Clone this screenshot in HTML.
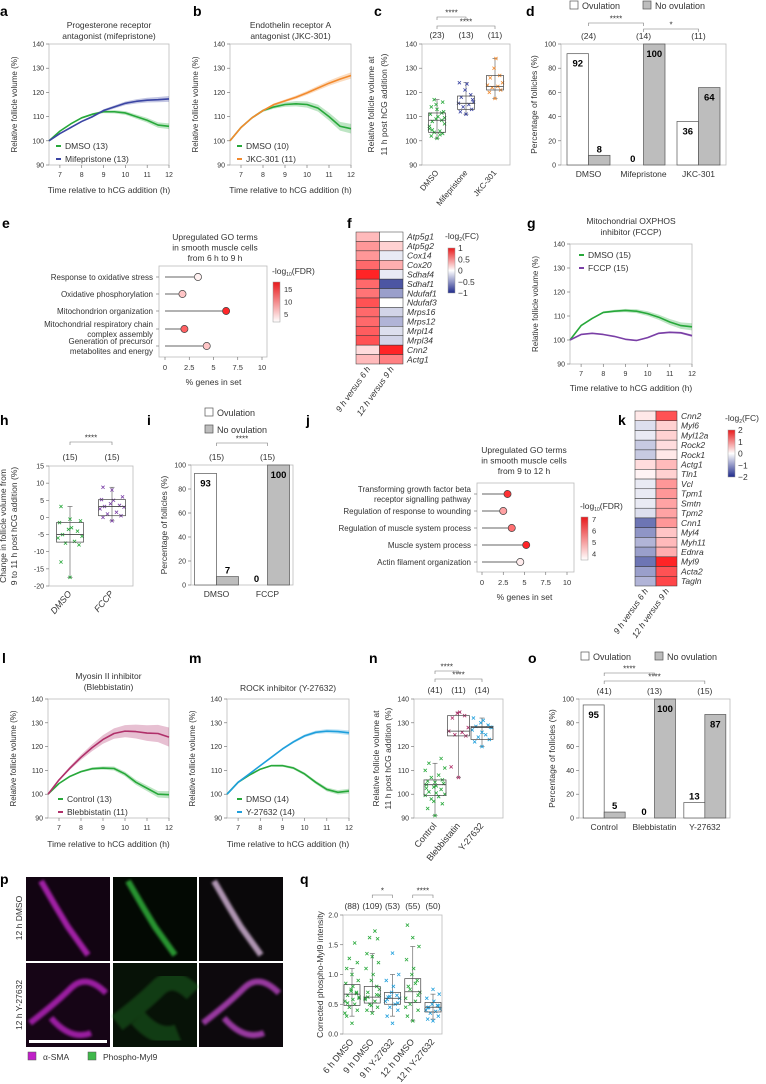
<!DOCTYPE html>
<html><head><meta charset="utf-8"><style>
html,body{margin:0;padding:0;background:#fff}
svg{display:block;font-family:"Liberation Sans",sans-serif}
</style></head><body>
<svg id="fig" width="766" height="1084" viewBox="0 0 766 1084" xmlns="http://www.w3.org/2000/svg">
<defs>
<linearGradient id="gFdr" x1="0" y1="1" x2="0" y2="0"><stop offset="0" stop-color="#fff"/><stop offset="1" stop-color="#e8191b"/></linearGradient>
<linearGradient id="gFc" x1="0" y1="1" x2="0" y2="0"><stop offset="0" stop-color="#1f2a8c"/><stop offset="0.5" stop-color="#fff"/><stop offset="1" stop-color="#e8191b"/></linearGradient>
<filter id="bl"><feGaussianBlur stdDeviation="1.4"/></filter>
</defs>
</svg>
<script>
// ---------- data ----------
const times = [6.5,7,7.5,8,8.5,9,9.5,10,10.5,11,11.5,12];
const aDmso = [100,104,107,109.5,111,112,112,111.5,110,108.5,106.5,106];
const aMife = [100,103,105.5,108,110,112.5,114,115.5,116.3,116.8,117,117.3];
const bDmso = [100,105.5,109.5,112.5,114,115,115.3,115,113.5,110,106,105];
const bJkc = [100,105.5,109.5,112.5,115,116.5,118,119.8,121.8,123.8,125.5,127];
const gDmso = [100,106,109,111.5,112,112.3,112,111,109.5,107.5,106,105.5];
const gFccp = [100,102.3,102.8,102.3,101.5,100.3,99.8,101,102.8,103.2,103,101.8];
const lCtrl = [100,104.5,107.5,109.5,110.7,111,110.8,108.5,105,102.5,100,99.8];
const lBleb = [100,106,111,115.5,119.5,123,125.5,126.5,126.3,125.7,125.5,124];
const mDmso = [100,105,108,110.5,112,112,111,108.5,105,102,100.8,101.3];
const mY = [100,105,108.5,112,115.5,119,122,124.5,126,126.5,126.3,125.8];

const cCats = ["DMSO","Mifepristone","JKC-301"];
const cStats = [[101,103.5,108.5,111.5,117],[111,113,115.5,118.5,124],[117.5,121,122.5,127,134]];
const cPts = [[101,102,103,103.5,104,105,107,108,108.5,109,110,111,112,113,114,116,117,102.5,106,109.5,104.5,111.5,115],
 [111,112,113,114,115,115.5,116,118,119,121,123.5,124,117],
 [117.5,120,121,122,122.5,123,124,126,127,130,134]];
const cN = ["(23)","(13)","(11)"];
const dCats = ["DMSO","Mifepristone","JKC-301"];
const dOv = [92,0,36];
const dNo = [8,100,64];
const dN = ["(24)","(14)","(11)"];

const eTerms = ["Response to oxidative stress","Oxidative phosphorylation","Mitochondrion organization","Mitochondrial respiratory chain|complex assembly","Generation of precursor|metabolites and energy"];
const ePct = [3.4,1.8,6.3,2.0,4.3];
const eFdr = [3,6,17,13,6];
const fGenes = ["Atp5g1","Atp5g2","Cox14","Cox20","Sdhaf4","Sdhaf1","Ndufaf1","Ndufaf3","Mrps16","Mrps12","Mrpl14","Mrpl34","Cnn2","Actg1"];
const fCol1 = [0.3,0.45,0.45,0.65,0.95,0.65,0.6,0.75,0.65,0.65,0.7,0.75,0.15,0.3];
const fCol2 = [0,0.2,-0.1,0.35,-0.1,-0.8,-0.45,0,-0.2,-0.35,-0.15,-0.2,0.95,0.55];

const hCats = ["DMSO","FCCP"];
const hStats = [[-17.5,-7.2,-5,-1.5,3.2],[-1,0.5,3.2,5.2,8.8]];
const hPts = [[-17.5,-13,-8,-7.5,-7,-6,-5.5,-5,-4,-3.5,-3,-1.5,-1,-0.5,3.2],[-1,0,0.5,1,1.5,2.5,3,3.2,3.5,4,5,5.2,6,8,8.8]];
const iOv = [93,0];
const iNo = [7,100];
const jTerms = ["Transforming growth factor beta|receptor signalling pathway","Regulation of response to wounding","Regulation of muscle system process","Muscle system process","Actin filament organization"];
const jPct = [3,2.5,3.5,5.2,4.5];
const jFdr = [6.8,5,5.8,7,3.8];
const kGenes = ["Cnn2","Myl6","Myl12a","Rock2","Rock1","Actg1","Tln1","Vcl","Tpm1","Smtn","Tpm2","Cnn1","Myl4","Myh11","Ednra","Myl9","Acta2","Tagln"];
const kCol1 = [0.2,-0.3,-0.2,-0.5,-0.5,0.3,0.1,-0.2,-0.2,-0.2,-0.3,-1.3,-1,-0.7,-0.9,-1.3,-0.9,-0.7];
const kCol2 = [1.5,0.4,0.4,0.3,0.2,0.6,0.4,0.9,0.9,0.8,0.8,0.9,0.5,0.6,0.7,1.9,1.5,1.6];

const nCats = ["Control","Blebbistatin","Y-27632"];
const nStats = [[91,99.5,104,106,113],[107,124.5,126.5,133,134.5],[120,123,128,128.5,132]];
const nPts = [[91,94,96,98,99,99.5,100,101,102,103,103.5,104,104.5,105,105.5,106,107,108,110,111,113,115,97,100.5,102.5],
 [107,111.5,124.5,125,126,126.5,128,132,133,134,134.5],
 [120,122,123,124,125,127,128,128.5,129,130,131,132,128.2,126]];
const nN = ["(41)","(11)","(14)"];
const oCats = ["Control","Blebbistatin","Y-27632"];
const oOv = [95,0,13];
const oNo = [5,100,87];
const oN = ["(41)","(13)","(15)"];

const qCats = ["6 h DMSO","9 h DMSO","9 h Y-27632","12 h DMSO","12 h Y-27632"];
const qStats = [[0.3,0.48,0.67,0.83,1.1],[0.38,0.52,0.62,0.8,1.35],[0.3,0.5,0.6,0.7,1.0],[0.22,0.53,0.71,0.93,1.47],[0.25,0.37,0.45,0.53,0.67]];
const qPts = [[0.18,0.3,0.4,0.45,0.5,0.55,0.6,0.65,0.7,0.75,0.8,0.85,0.9,1.0,1.1,1.2,1.27,1.53,0.35,0.62,0.52,0.68,0.72,0.58],
 [0.35,0.4,0.45,0.5,0.55,0.6,0.65,0.7,0.8,0.9,1.0,1.1,1.2,1.3,1.35,1.6,1.62,1.73,0.58,0.75,0.62,0.66,0.48],
 [0.18,0.3,0.4,0.45,0.5,0.55,0.6,0.62,0.65,0.7,0.8,0.9,1.0,1.36,0.58,0.52,0.63],
 [0.22,0.3,0.4,0.5,0.55,0.6,0.7,0.8,0.9,1.0,1.1,1.25,1.47,1.62,1.83,0.65,0.75,0.85,0.45],
 [0.22,0.25,0.3,0.35,0.38,0.4,0.42,0.45,0.48,0.5,0.55,0.6,0.67,0.75,0.44,0.47]];
const qN = ["(88)","(109)","(53)","(55)","(50)"];

// ---------- helpers ----------
const NS="http://www.w3.org/2000/svg";
const svg=document.getElementById('fig');
function mk(tag,a,name,parent){
  const e=document.createElementNS(NS,tag);
  for(const k in a) e.setAttribute(k,a[k]);
  
  
  (parent||svg).appendChild(e); return e;
}
function T(x,y,s,name,o){
  o=o||{};
  const a={x:x,y:y,'font-size':o.fs||7.5,fill:o.fill||'#333','text-anchor':o.anchor||'start'};
  if(o.rot!==undefined) a.transform='rotate('+o.rot+' '+x+' '+y+')';
  if(o.bold) a['font-weight']='bold';
  if(o.italic) a['font-style']='italic';
  const e=mk('text',a,name); e.textContent=s; return e;
}
function letter(x,y,s){T(x,y,s,'panel-label-'+s,{fs:14,bold:true,fill:'#000'});}
function lin(d0,d1,r0,r1){return v=>r0+(v-d0)*(r1-r0)/(d1-d0);}
function yAxis(x,sy,ticks,name,fmt,fs){
  ticks.forEach(t=>{mk('line',{x1:x-3,x2:x,y1:sy(t),y2:sy(t),stroke:'#666','stroke-width':0.6},name+'-tick');
   T(x-5,sy(t)+2.5,fmt?fmt(t):String(t),name+'-tick-label',{anchor:'end',fs:fs||7});});
}
function frame(x0,y0,x1,y1,name){mk('rect',{x:x0,y:y0,width:x1-x0,height:y1-y0,fill:'none',stroke:'#bbb','stroke-width':0.8},name);}
function linePanel(c){
  const sx=lin(6.5,12,c.x0,c.x1), sy=lin(90,140,c.y1,c.y0);
  frame(c.x0,c.y0,c.x1,c.y1,c.id+'-plot-frame');
  yAxis(c.x0,sy,[90,100,110,120,130,140],c.id+'-y');
  [7,8,9,10,11,12].forEach(t=>{mk('line',{x1:sx(t),x2:sx(t),y1:c.y1,y2:c.y1+3,stroke:'#666','stroke-width':0.6},c.id+'-x-tick');
    T(sx(t),c.y1+12,String(t),c.id+'-x-tick-label',{anchor:'middle',fs:7});});
  T(c.x0-32,(c.y0+c.y1)/2,'Relative follicle volume (%)',c.id+'-y-axis-title',{anchor:'middle',rot:-90,fs:8});
  T((c.x0+c.x1)/2,c.y1+c.xt,'Time relative to hCG addition (h)',c.id+'-x-axis-title',{anchor:'middle',fs:8.5});
  c.title.forEach((s,i)=>T((c.x0+c.x1)/2,c.ty+i*11,s,c.id+'-title',{anchor:'middle',fs:8.5}));
  c.series.forEach((s,k)=>{
    const up=s.v.map((v,i)=>sx(times[i])+','+sy(v+s.e*i/11));
    const dn=s.v.map((v,i)=>sx(times[i])+','+sy(v-s.e*i/11)).reverse();
    mk('polygon',{points:up.concat(dn).join(' '),fill:s.col,opacity:0.3},c.id+'-band-'+s.key);
    mk('polyline',{points:s.v.map((v,i)=>sx(times[i])+','+sy(v)).join(' '),fill:'none',stroke:s.col,'stroke-width':1.6,'stroke-linejoin':'round'},c.id+'-line-'+s.key);
    const ly=c.ly+k*13;
    mk('line',{x1:c.lx,x2:c.lx+5,y1:ly-3,y2:ly-3,stroke:s.col,'stroke-width':2},c.id+'-legend-swatch-'+s.key);
    T(c.lx+9,ly,s.label,c.id+'-legend-entry-'+s.key,{fs:8.5});
  });
}
const jit=[0,-3,3,-1.5,1.5,-4,4,-2.5,2.5,-0.5,0.5,-3.5,3.5];
function boxPanel(c){
  const sy=lin(c.ymin,c.ymax,c.y1,c.y0);
  frame(c.x0,c.y0,c.x1,c.y1,c.id+'-plot-frame');
  yAxis(c.x0,sy,c.ticks,c.id+'-y',c.fmt,c.tfs);
  c.title.forEach((s,i)=>T(c.x0+c.tOff[i],(c.y0+c.y1)/2,s,c.id+'-y-axis-title',{anchor:'middle',rot:-90,fs:8.5}));
  const n=c.cats.length, step=(c.x1-c.x0-2*c.pad)/(n-1);
  c.cats.forEach((cat,i)=>{
    const x=c.x0+c.pad+i*step, s=c.stats[i], w=c.bw;
    mk('line',{x1:x,x2:x,y1:sy(s[0]),y2:sy(s[4]),stroke:'#555','stroke-width':0.6},c.id+'-whisker');
    [s[0],s[4]].forEach(v=>mk('line',{x1:x-2.5,x2:x+2.5,y1:sy(v),y2:sy(v),stroke:'#555','stroke-width':0.6},c.id+'-whisker-cap'));
    c.pts[i].forEach((v,j)=>{const px=x+jit[j%jit.length]*(w/9);
      mk('path',{d:'M'+(px-1.6)+','+(sy(v)-1.6)+'l3.2,3.2M'+(px+1.6)+','+(sy(v)-1.6)+'l-3.2,3.2',stroke:c.cols[i],'stroke-width':0.8},c.id+'-point');});
    mk('rect',{x:x-w/2,y:sy(s[3]),width:w,height:sy(s[1])-sy(s[3]),fill:'none',stroke:'#444','stroke-width':0.7},c.id+'-box-'+i);
    mk('line',{x1:x-w/2,x2:x+w/2,y1:sy(s[2]),y2:sy(s[2]),stroke:'#444','stroke-width':0.8},c.id+'-median');
    T(x+2,c.y1+8,cat,c.id+'-category-label',{anchor:'end',rot:-50,fs:c.cfs||8,italic:c.italic});
    if(c.counts) T(x,c.y0-6,c.counts[i],c.id+'-count',{anchor:'middle',fs:8.5});
  });
  c.brk.forEach(b=>{const xa=c.x0+c.pad+b[0]*step, xb=c.x0+c.pad+b[1]*step;
    mk('path',{d:'M'+xa+','+(b[2]+3)+'V'+b[2]+'H'+xb+'V'+(b[2]+3),fill:'none',stroke:'#777','stroke-width':0.6},c.id+'-sig-bracket');
    T((xa+xb)/2,b[2]-1.5,b[3],c.id+'-sig-stars',{anchor:'middle',fs:8});});
}
function barPanel(c){
  const sy=lin(0,100,c.y1,c.y0);
  frame(c.x0,c.y0,c.x1,c.y1,c.id+'-plot-frame');
  yAxis(c.x0,sy,[0,20,40,60,80,100],c.id+'-y');
  T(c.x0-24,(c.y0+c.y1)/2,'Percentage of follicles (%)',c.id+'-y-axis-title',{anchor:'middle',rot:-90,fs:8.5});
  const n=c.cats.length, gw=(c.x1-c.x0)/n;
  c.cats.forEach((cat,i)=>{
    const cx=c.x0+gw*(i+0.5), bw=c.bw;
    [[c.ov[i],cx-bw,'#fff','ovulation'],[c.no[i],cx,'#bdbdbd','no-ovulation']].forEach(b=>{
      if(b[0]>0) mk('rect',{x:b[1],y:sy(b[0]),width:bw,height:c.y1-sy(b[0]),fill:b[2],stroke:'#555','stroke-width':0.7},c.id+'-bar-'+b[3]);
      const big=b[0]>20, ty=big?sy(b[0])+13:sy(b[0])-3;
      T(b[1]+bw/2,ty,String(b[0]),c.id+'-value-label',{anchor:'middle',fs:9.5,bold:true,fill:'#000'});
    });
    T(cx,c.y1+12,cat,c.id+'-category-label',{anchor:'middle',fs:8.5});
    T(cx,c.y0-5,c.counts[i],c.id+'-count',{anchor:'middle',fs:8.5});
  });
  c.brk.forEach(b=>{const xa=c.x0+gw*(b[0]+0.5), xb=c.x0+gw*(b[1]+0.5);
    mk('path',{d:'M'+xa+','+(b[2]+3)+'V'+b[2]+'H'+xb+'V'+(b[2]+3),fill:'none',stroke:'#777','stroke-width':0.6},c.id+'-sig-bracket');
    T((xa+xb)/2,b[2]-1.5,b[3],c.id+'-sig-stars',{anchor:'middle',fs:8});});
}
function legendOv(x1,y1,x2,y2,id){
  mk('rect',{x:x1,y:y1-8,width:8,height:8,fill:'#fff',stroke:'#555','stroke-width':0.7},id+'-legend-swatch-ovulation');
  T(x1+12,y1,'Ovulation',id+'-legend-entry-ovulation',{fs:9});
  mk('rect',{x:x2,y:y2-8,width:8,height:8,fill:'#bdbdbd',stroke:'#555','stroke-width':0.7},id+'-legend-swatch-no-ovulation');
  T(x2+12,y2,'No ovulation',id+'-legend-entry-no-ovulation',{fs:9});
}
function redScale(t){t=Math.max(0,Math.min(1,t));return 'rgb(255,'+Math.round(255-231*t)+','+Math.round(255-228*t)+')';}
function lolli(c){
  const sx=lin(0,10,c.ax0,c.ax1);
  mk('rect',{x:c.x0,y:c.y0,width:c.x1-c.x0,height:c.y1-c.y0,fill:'none',stroke:'#bbb','stroke-width':0.8},c.id+'-plot-frame');
  c.terms.forEach((t,i)=>{
    const y=c.rows[i];
    mk('line',{x1:c.x0-3,x2:c.x0,y1:y,y2:y,stroke:'#666','stroke-width':0.6},c.id+'-y-tick');
    const parts=t.split('|');
    parts.forEach((p,k)=>T(c.x0-6,y+3+(k-(parts.length-1)/2)*10,p,c.id+'-term-label',{anchor:'end',fs:8}));
    mk('line',{x1:sx(0),x2:sx(c.pct[i]),y1:y,y2:y,stroke:'#666','stroke-width':1.1},c.id+'-stem');
    mk('circle',{cx:sx(c.pct[i]),cy:y,r:3.6,fill:redScale((c.fdr[i]-c.fmin)/(c.fmax-c.fmin)),stroke:'#444','stroke-width':0.7},c.id+'-dot');
  });
  [0,2.5,5,7.5,10].forEach(t=>{mk('line',{x1:sx(t),x2:sx(t),y1:c.y1,y2:c.y1+3,stroke:'#666','stroke-width':0.6},c.id+'-x-tick');
    T(sx(t),c.y1+13,String(t),c.id+'-x-tick-label',{anchor:'middle',fs:7.5});});
  T((c.ax0+c.ax1)/2,c.y1+28,'% genes in set',c.id+'-x-axis-title',{anchor:'middle',fs:8.5});
  c.title.forEach((s,i)=>T(c.tx,c.ty+i*10.5,s,c.id+'-title',{anchor:'middle',fs:8.5}));
  mk('rect',{x:c.cbx,y:c.cby0,width:7,height:c.cby1-c.cby0,fill:'url(#gFdr)',stroke:'#999','stroke-width':0.5},c.id+'-colorbar');
  const cs=lin(c.fmin,c.fmax,c.cby1,c.cby0);
  c.cbt.forEach(v=>T(c.cbx+11,cs(v)+2.5,String(v),c.id+'-colorbar-label',{fs:7.5}));
  const lt=T(c.cbx-1,c.cby0-8,'-log',c.id+'-colorbar-title',{fs:8.5});
  const s1=document.createElementNS(NS,'tspan');s1.setAttribute('font-size','5');s1.setAttribute('dy','2');s1.textContent='10';lt.appendChild(s1);
  const s2=document.createElementNS(NS,'tspan');s2.setAttribute('dy','-2');s2.textContent='(FDR)';lt.appendChild(s2);
}
function fcColor(v,m){const t=Math.max(-1,Math.min(1,v/m));
  if(t>=0) return redScale(t);
  const a=-t; return 'rgb('+Math.round(255-224*a)+','+Math.round(255-213*a)+','+Math.round(255-115*a)+')';}
function heat(c){
  const rh=(c.y1-c.y0)/c.genes.length, cw=(c.x1-c.x0)/2;
  [c.c1,c.c2].forEach((col,j)=>col.forEach((v,i)=>
    mk('rect',{x:c.x0+j*cw,y:c.y0+i*rh,width:cw,height:rh,fill:fcColor(v,c.m),stroke:'#333','stroke-width':0.5},c.id+'-cell')));
  c.genes.forEach((g,i)=>T(c.x1+4,c.y0+(i+0.5)*rh+3,g,c.id+'-gene-label',{fs:8.5,italic:true}));
  ['9 h versus 6 h','12 h versus 9 h'].forEach((s,j)=>T(c.x0+cw*(j+0.5)+3,c.y1+5,s,c.id+'-column-label',{anchor:'end',rot:-55,fs:8.5,italic:true}));
  mk('rect',{x:c.cbx,y:c.cby0,width:7,height:c.cby1-c.cby0,fill:'url(#gFc)',stroke:'#999','stroke-width':0.5},c.id+'-colorbar');
  c.cbt.forEach((v,i)=>T(c.cbx+10,c.cby0+i*(c.cby1-c.cby0)/(c.cbt.length-1)+3,v,c.id+'-colorbar-label',{fs:8.5}));
  const lt=T(c.cbx-3,c.cby0-9,'-log',c.id+'-colorbar-title',{fs:8.5});
  const s1=document.createElementNS(NS,'tspan');s1.setAttribute('font-size','5');s1.setAttribute('dy','2');s1.textContent='2';lt.appendChild(s1);
  const s2=document.createElementNS(NS,'tspan');s2.setAttribute('dy','-2');s2.textContent='(FC)';lt.appendChild(s2);
}

// ---------- panels ----------
const G='#27a83a';
letter(0,16,'a'); letter(193,16,'b'); letter(374,16,'c'); letter(526,16,'d');
linePanel({id:'a',x0:49,x1:169,y0:44,y1:165,ty:28,xt:28,title:['Progesterone receptor','antagonist (mifepristone)'],lx:56,ly:149,
  series:[{key:'dmso',v:aDmso,e:1.2,col:G,label:'DMSO (13)'},{key:'mifepristone',v:aMife,e:1.2,col:'#3b45a3',label:'Mifepristone (13)'}]});
linePanel({id:'b',x0:230,x1:351,y0:44,y1:165,ty:28,xt:28,title:['Endothelin receptor A','antagonist (JKC-301)'],lx:237,ly:149,
  series:[{key:'dmso',v:bDmso,e:2,col:G,label:'DMSO (10)'},{key:'jkc301',v:bJkc,e:1.3,col:'#f28a2e',label:'JKC-301 (11)'}]});
boxPanel({id:'c',x0:422,x1:510,y0:44,y1:165,ymin:90,ymax:140,ticks:[90,100,110,120,130,140],pad:15,bw:17,tOff:[-48,-35],
  title:['Relative follicle volume at','11 h post hCG addition (%)'],cats:cCats,stats:cStats,pts:cPts,counts:cN,
  cols:[G,'#3b45a3','#f28a2e'],brk:[[0,1,17,'****'],[0,2,26,'****']]});
legendOv(570,9,643,9,'d');
barPanel({id:'d',x0:561,x1:726,y0:44,y1:165,cats:dCats,ov:dOv,no:dNo,counts:dN,bw:21.5,brk:[[0,1,23,'****'],[1,2,29,'*']]});

letter(2,228,'e'); letter(347,228,'f'); letter(527,228,'g');
lolli({id:'e',x0:159,x1:267,y0:266,y1:357,ax0:165,ax1:262,rows:[277,294,311,329,346],terms:eTerms,pct:ePct,fdr:eFdr,fmin:2,fmax:18,
  title:['Upregulated GO terms','in smooth muscle cells','from 6 h to 9 h'],tx:215,ty:240,cbx:273,cby0:282,cby1:322,cbt:[5,10,15]});
heat({id:'f',x0:356,x1:403,y0:232,y1:364,genes:fGenes,c1:fCol1,c2:fCol2,m:1,cbx:448,cby0:248,cby1:293,cbt:['1','0.5','0','−0.5','−1']});
linePanel({id:'g',x0:570,x1:692,y0:244,y1:364,ty:224,xt:27,title:['Mitochondrial OXPHOS','inhibitor (FCCP)'],lx:579,ly:258,
  series:[{key:'dmso',v:gDmso,e:1.5,col:G,label:'DMSO (15)'},{key:'fccp',v:gFccp,e:0.5,col:'#7a3fa6',label:'FCCP (15)'}]});

letter(0,425,'h'); letter(147,425,'i'); letter(306,425,'j'); letter(618,425,'k');
boxPanel({id:'h',x0:49,x1:133,y0:466,y1:586,ymin:-20,ymax:15,ticks:[-20,-15,-10,-5,0,5,10,15],pad:21,bw:27,italic:true,tOff:[-43,-32],cfs:9,
  title:['Change in follicle volume from','9 to 11 h post hCG addition (%)'],cats:hCats,stats:hStats,pts:hPts,counts:['(15)','(15)'],
  cols:[G,'#7a3fa6'],brk:[[0,1,442,'****']]});
legendOv(205,416,205,433,'i');
barPanel({id:'i',x0:191,x1:293,y0:465,y1:585,cats:['DMSO','FCCP'],ov:iOv,no:iNo,counts:['(15)','(15)'],bw:22,brk:[[0,1,443,'****']]});
lolli({id:'j',x0:477,x1:574,y0:483,y1:572,ax0:482,ax1:567,rows:[494,511,528,545,562],terms:jTerms,pct:jPct,fdr:jFdr,fmin:3.5,fmax:7.2,
  title:['Upregulated GO terms','in smooth muscle cells','from 9 to 12 h'],tx:524,ty:453,cbx:581,cby0:517,cby1:560,cbt:[4,5,6,7]});
heat({id:'k',x0:635,x1:677,y0:411,y1:586,genes:kGenes,c1:kCol1,c2:kCol2,m:2,cbx:728,cby0:430,cby1:477,cbt:['2','1','0','−1','−2']});

letter(2,663,'l'); letter(189,663,'m'); letter(369,663,'n'); letter(528,663,'o');
linePanel({id:'l',x0:48,x1:169,y0:699,y1:818,ty:679,xt:29,title:['Myosin II inhibitor','(Blebbistatin)'],lx:58,ly:802,
  series:[{key:'control',v:lCtrl,e:1.5,col:G,label:'Control (13)'},{key:'blebbistatin',v:lBleb,e:4,col:'#b0306a',label:'Blebbistatin (11)'}]});
linePanel({id:'m',x0:227,x1:349,y0:699,y1:818,ty:691,xt:29,title:['ROCK inhibitor (Y-27632)'],lx:237,ly:802,
  series:[{key:'dmso',v:mDmso,e:1,col:G,label:'DMSO (14)'},{key:'y27632',v:mY,e:1,col:'#1f9fdc',label:'Y-27632 (14)'}]});
boxPanel({id:'n',x0:414,x1:503,y0:699,y1:818,ymin:90,ymax:140,ticks:[90,100,110,120,130,140],pad:21,bw:22,tOff:[-35,-23],cfs:9,
  title:['Relative follicle volume at','11 h post hCG addition (%)'],cats:nCats,stats:nStats,pts:nPts,counts:nN,
  cols:[G,'#b0306a','#1f9fdc'],brk:[[0,1,671,'****'],[0,2,679,'****']]});
legendOv(581,660,655,660,'o');
barPanel({id:'o',x0:579,x1:730,y0:699,y1:818,cats:oCats,ov:oOv,no:oNo,counts:oN,bw:21,brk:[[0,1,673,'****'],[0,2,681,'****']]});

// p images
letter(0,884,'p');
const imgs=[[26,877,'#d02ad6','#120412'],[113,877,'#35c23f','#030903'],[199,877,'#e6c4ea','#0a080a'],[26,963,'#c626cf','#160516'],[113,963,'#2a9c30','#071207'],[199,963,'#c64ad0','#0d090d']];
imgs.forEach((im,i)=>{
  mk('rect',{x:im[0],y:im[1],width:84,height:84,fill:im[3]},'micrograph-'+i);
  const x=im[0], y=im[1];
  const d = i<3 ? 'M'+(x+15)+','+(y+4)+' L'+(x+30)+','+(y+30)+' L'+(x+42)+','+(y+50)+' L'+(x+62)+','+(y+78)
                : 'M'+(x+4)+','+(y+60)+' Q'+(x+30)+','+(y+40)+' '+(x+45)+','+(y+25)+' T'+(x+80)+','+(y+30)+' M'+(x+25)+','+(y+55)+' Q'+(x+45)+','+(y+78)+' '+(x+65)+','+(y+70);
  mk('path',{d:d,fill:'none',stroke:im[2],'stroke-width':i==4?18:6,opacity:i==4?0.3:0.75,filter:'url(#bl)'},'micrograph-structure');
});
mk('rect',{x:29,y:1040,width:78,height:3,fill:'#fff'},'scale-bar');
T(22,918,'12 h DMSO','row-label-12h-dmso',{anchor:'middle',rot:-90,fs:8.5});
T(22,1005,'12 h Y-27632','row-label-12h-y27632',{anchor:'middle',rot:-90,fs:8.5});
mk('rect',{x:28,y:1052,width:8,height:8,fill:'#c020c8',stroke:'#555','stroke-width':0.5},'legend-swatch-asma');
T(43,1060,'α-SMA','legend-entry-asma',{fs:8.5});
mk('rect',{x:88,y:1052,width:8,height:8,fill:'#3fb84a',stroke:'#555','stroke-width':0.5},'legend-swatch-phospho-myl9');
T(103,1060,'Phospho-Myl9','legend-entry-phospho-myl9',{fs:8.5});

letter(300,884,'q');
boxPanel({id:'q',x0:343,x1:442,y0:915,y1:1034,ymin:0,ymax:2,ticks:[0,0.5,1,1.5,2],fmt:v=>v.toFixed(1),pad:9,bw:16,tOff:[-20],cfs:9,
  title:['Corrected phospho-Myl9 intensity'],cats:qCats,stats:qStats,pts:qPts,counts:qN,
  cols:[G,G,'#1f9fdc',G,'#1f9fdc'],brk:[[1,2,895,'*'],[3,4,895,'****']]});
</script>
</body></html>
